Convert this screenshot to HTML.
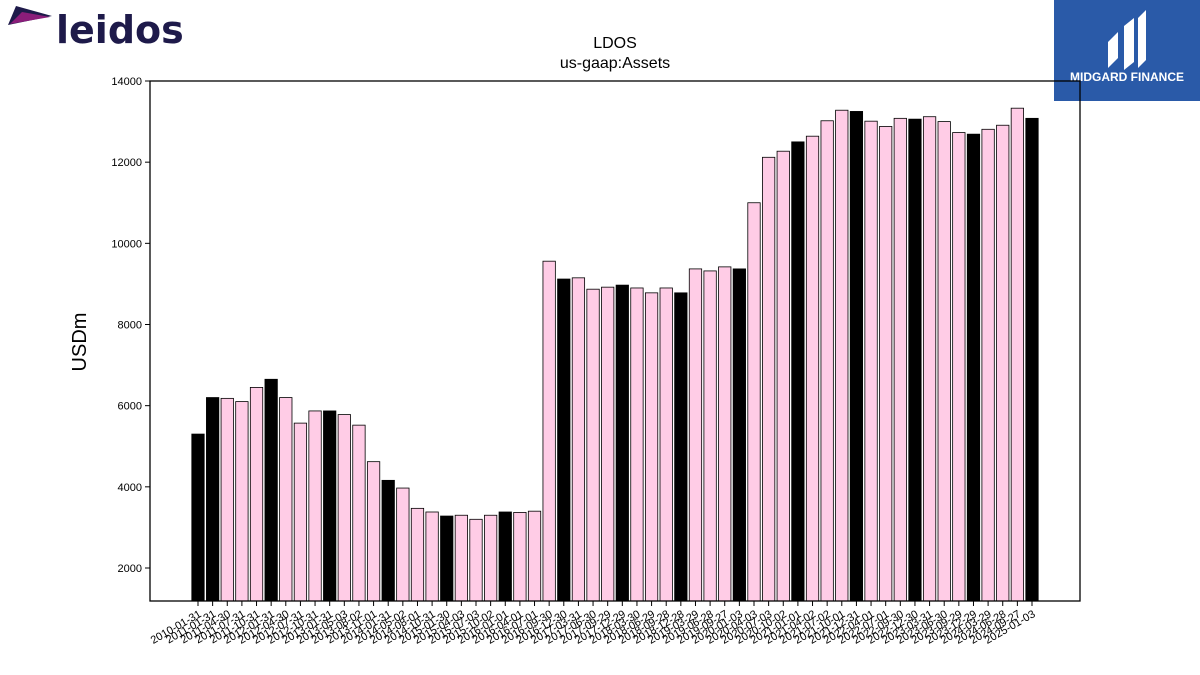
<!DOCTYPE html>
<html><head><meta charset="utf-8"><style>
body{margin:0;width:1200px;height:675px;background:#fff;overflow:hidden;font-family:"Liberation Sans","DejaVu Sans",sans-serif;}
svg{position:absolute;left:0;top:0}
</style></head><body>
<svg id="chart" width="1200" height="675">
<g>
<polygon points="8,25 16,6 52,16" fill="#1e1a4a"/>
<polygon points="10,24 22,12 50,17" fill="#8b1d7a"/>
<text x="56" y="43" font-size="38" font-weight="bold" fill="#1e1a4a" font-family="DejaVu Sans, sans-serif">leidos</text>
</g>
<g>
<rect x="1054" y="0" width="146" height="101" fill="#2a5aa8"/>
<path d="M1108,68 L1108,42 L1118,32 L1118,58 Z M1124,70 L1124,26 L1134,18 L1134,62 Z M1138,68 L1138,18 L1146,10 L1146,60 Z" fill="#fff"/>
<text x="1127" y="81" font-size="12" font-weight="bold" fill="#fff" text-anchor="middle">MIDGARD FINANCE</text>
</g>
<text x="615" y="48" font-size="16" text-anchor="middle">LDOS</text>
<text x="615" y="68" font-size="16" text-anchor="middle">us-gaap:Assets</text>
<text transform="translate(86,342) rotate(-90)" font-size="20" text-anchor="middle">USDm</text>
<g id="bars"></g><g id="yaxis"></g><g id="xaxis"></g>
<rect x="150" y="81" width="930" height="520" fill="none" stroke="#000" stroke-width="1.3"/>
</svg>
<script>
const dates=["2010-01-31","2011-01-31","2011-04-30","2011-07-31","2011-10-31","2012-01-31","2012-04-30","2012-07-31","2012-10-31","2013-01-31","2013-05-03","2013-08-02","2013-11-01","2014-01-31","2014-05-02","2014-08-01","2014-10-31","2015-01-30","2015-04-03","2015-07-03","2015-10-02","2016-01-01","2016-04-01","2016-07-01","2016-09-30","2016-12-30","2017-03-31","2017-06-30","2017-09-29","2017-12-29","2018-03-30","2018-06-29","2018-09-28","2018-12-28","2019-03-29","2019-06-28","2019-09-27","2020-01-03","2020-04-03","2020-07-03","2020-10-02","2021-01-01","2021-04-02","2021-07-02","2021-10-01","2021-12-31","2022-04-01","2022-07-01","2022-09-30","2022-12-30","2023-03-31","2023-06-30","2023-09-29","2023-12-29","2024-03-29","2024-06-28","2024-09-27","2025-01-03"];
const assets=[5300,6200,6180,6100,6450,6650,6200,5570,5870,5870,5780,5520,4620,4160,3970,3470,3380,3280,3300,3200,3300,3380,3370,3400,9560,9120,9150,8870,8920,8970,8900,8780,8900,8780,9370,9320,9420,9370,11000,12120,12270,12500,12640,13020,13280,13250,13010,12880,13080,13060,13120,13000,12730,12690,12810,12910,13330,13080];
const annual=[1,1,0,0,0,1,0,0,0,1,0,0,0,1,0,0,0,1,0,0,0,1,0,0,0,1,0,0,0,1,0,0,0,1,0,0,0,1,0,0,0,1,0,0,0,1,0,0,0,1,0,0,0,1,0,0,0,1];
const yTicks=[2000,4000,6000,8000,10000,12000,14000];
const NS="http://www.w3.org/2000/svg";
const y=v=>81+(14000-v)*(568-81)/12000;
const x=i=>198+i*(1032-198)/(dates.length-1);
const bw=12.4;
function mk(t,a,p){const e=document.createElementNS(NS,t);for(const k in a)e.setAttribute(k,a[k]);p.appendChild(e);return e;}
const gb=document.getElementById('bars'),gy=document.getElementById('yaxis'),gx=document.getElementById('xaxis');
assets.forEach((v,i)=>{
 const r=mk('rect',{x:x(i)-bw/2,y:y(v),width:bw,height:601-y(v),fill:annual[i]?'#000':'#ffcce6',stroke:'#000','stroke-width':0.8},gb);
 
 
});
yTicks.forEach(t=>{
 const l=mk('line',{x1:145,x2:150,y1:y(t),y2:y(t),stroke:'#000'},gy);
 
 
 const tx=mk('text',{x:142,y:y(t)+4,'font-size':11,'text-anchor':'end'},gy);
 tx.textContent=t;
 
 
});
dates.forEach((d,i)=>{
 const l=mk('line',{x1:x(i),x2:x(i),y1:601,y2:606,stroke:'#000'},gx);
 
 
 const tx=mk('text',{'font-size':11,'text-anchor':'end',transform:`translate(${x(i)+4},${616}) rotate(-30)`},gx);
 tx.textContent=d;
 
 
});
</script>
</body></html>
